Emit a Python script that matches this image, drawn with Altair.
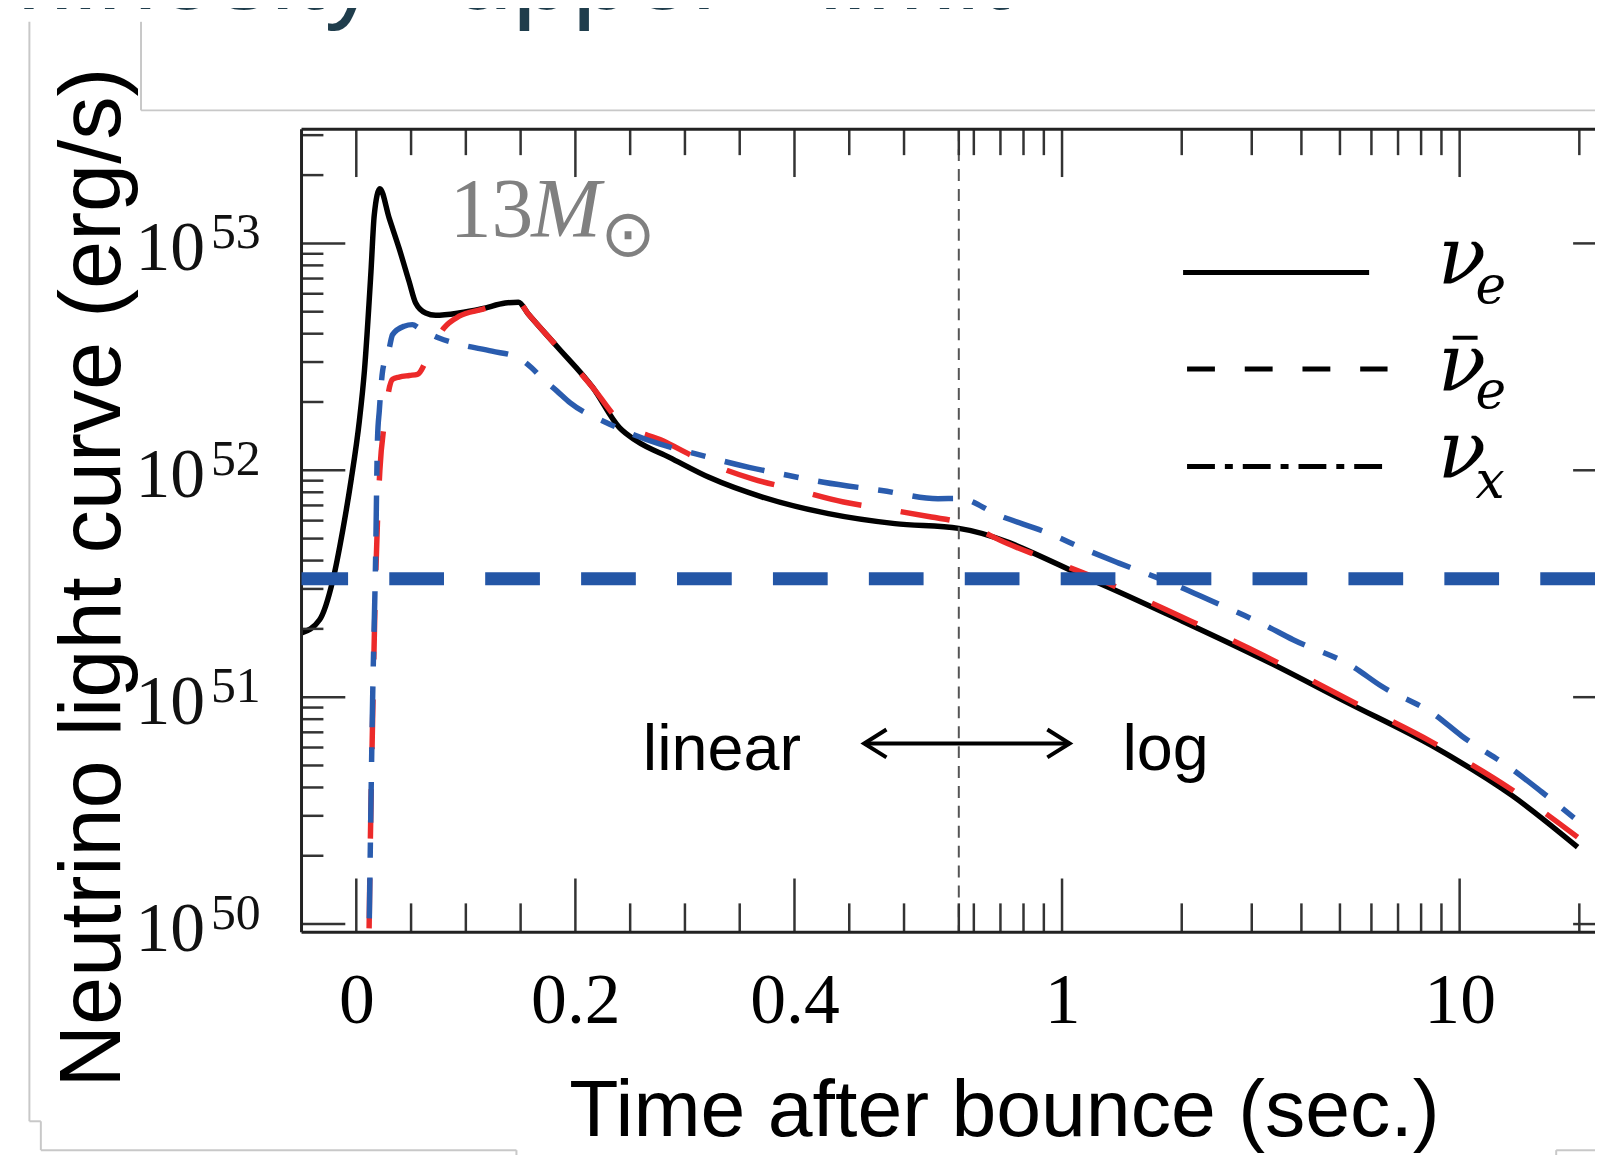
import altair as alt
import numpy as np
import pandas as pd

# ---------------- data (t in s, log10 L in erg/s) ----------------
nue_t = [-0.05, -0.0335, -0.0214, -0.0124, -0.0048, 0.0028, 0.0074, 0.0134, 0.0164, 0.0215,
         0.0301, 0.0391, 0.0482, 0.0542, 0.0633, 0.0724, 0.0936, 0.1148, 0.136, 0.148, 0.157,
         0.183, 0.216, 0.240, 0.2556, 0.2858, 0.322, 0.3707, 0.431, 0.4917, 0.55,
         1.216, 1.976, 3.22, 5.24, 8.54, 13.56, 19.8]
nue_logL = [51.283, 51.341, 51.516, 51.735, 51.955, 52.218, 52.437, 52.876, 53.125, 53.241,
            53.110, 52.978, 52.832, 52.737, 52.693, 52.683, 52.693, 52.712, 52.737, 52.741, 52.689,
            52.547, 52.364, 52.189, 52.130, 52.057, 51.969, 51.882, 51.809, 51.765, 51.744,
            51.509, 51.341, 51.165, 50.975, 50.785, 50.566, 50.339]

nuebar_t = [0.0117, 0.0124, 0.0149, 0.0179, 0.0215, 0.0255, 0.0285, 0.0331, 0.0391, 0.0485,
            0.0558, 0.0676, 0.080, 0.0939, 0.1148, 0.136, 0.148, 0.157, 0.183, 0.216, 0.240,
            0.2798, 0.316, 0.3616, 0.398, 0.4448, 0.481, 0.525, 0.55,
            0.729, 1.216, 1.976, 3.22, 5.24, 8.54, 13.56, 19.8]
nuebar_logL = [49.981, 50.230, 50.902, 51.560, 51.999, 52.204, 52.320, 52.401, 52.411, 52.418,
               52.423, 52.525, 52.627, 52.679, 52.709, 52.737, 52.741, 52.689, 52.547, 52.364, 52.218,
               52.130, 52.043, 51.962, 51.918, 51.860, 51.831, 51.794, 51.772,
               51.677, 51.525, 51.358, 51.183, 50.990, 50.801, 50.591, 50.383]

nux_t = [0.0119, 0.0149, 0.0176, 0.0194, 0.0210, 0.0240, 0.0301, 0.0331, 0.0437, 0.0512,
         0.0573, 0.0755, 0.0936, 0.1239, 0.148, 0.160, 0.169, 0.183, 0.195, 0.228, 0.2767,
         0.310, 0.3585, 0.3948, 0.4266, 0.4797, 0.531, 0.55,
         0.694, 0.929, 1.156, 1.390, 1.931, 2.349, 3.225, 3.812, 5.373, 6.365, 8.638, 10.12,
         13.54, 16.09, 19.78]
nux_logL = [50.025, 50.990, 51.604, 52.143, 52.262, 52.437, 52.539, 52.598, 52.635, 52.642,
            52.627, 52.583, 52.556, 52.525, 52.496, 52.452, 52.408, 52.350, 52.298, 52.211, 52.116,
            52.072, 52.013, 51.977, 51.947, 51.911, 51.875, 51.876,
            51.801, 51.721, 51.648, 51.591, 51.494, 51.428, 51.319, 51.253, 51.136, 51.048, 50.924, 50.829,
            50.683, 50.582, 50.456]

threshold_logL = [51.522]          # horizontal upper-limit line
split_t = [0.55]                   # linear -> log boundary
arrow_t = [0.4636, 1.045]          # double arrow ends
arrow_logL = [50.796]

x_major_t = [0, 0.2, 0.4, 1, 10]
x_major_labels = ["0", "0.2", "0.4", "1", "10"]
x_minor_t = [0.05, 0.1, 0.15, 0.25, 0.3, 0.35, 0.45, 0.5, 0.55,
             0.6, 0.7, 0.8, 0.9, 2, 3, 4, 5, 6, 7, 8, 9, 20]
y_major_exp = [50, 51, 52, 53]
y_minor = [k * 10.0 ** e for e in (50, 51, 52) for k in range(2, 10)] + [2e53, 3e53]

# ---------------- hybrid axis: linear up to 0.55 s, log beyond ----------------
T_SPLIT = 0.55
K_LOG = 399.6 / 1101.0  # linear units per decade


def to_u(t):
    t = float(t)
    if t <= T_SPLIT:
        return t
    return T_SPLIT + (np.log10(t) - np.log10(T_SPLIT)) * K_LOG


W, H = 1300, 807
XS = alt.Scale(domain=[-0.05, -0.05 + W / 1101.0], nice=False, zero=False)
YS = alt.Scale(type="log", domain=[10 ** 49.964, 10 ** 53.503], nice=False)

tick_u = [to_u(t) for t in x_major_t]
expr = "''"
for uu, lab in reversed(list(zip(tick_u, x_major_labels))):
    expr = f"abs(datum.value - {uu:.6f}) < 0.001 ? '{lab}' : ({expr})"

XAX = alt.Axis(
    values=tick_u, labelExpr=expr, ticks=False, tickSize=0, domain=False, grid=False,
    labelFont="Liberation Serif", labelFontSize=72, labelColor="black",
    labelBaseline="alphabetic", labelPadding=91, labelFlush=False, labelOverlap=False,
    title="Time after bounce (sec.)", titleFont="Liberation Sans", titleFontSize=81,
    titleFontWeight="normal", titleColor="black", titleX=706, titleY=204,
    titleAlign="center", titleBaseline="alphabetic")
YAX = alt.Axis(
    labels=False, ticks=False, domain=False, grid=False,
    title="Neutrino light curve (erg/s)", titleFont="Liberation Sans", titleFontSize=87,
    titleFontWeight="normal", titleColor="black", titleAngle=270, titleX=-183, titleY=450,
    titleAlign="center", titleBaseline="alphabetic")


def X(f):
    return alt.X(f"{f}:Q", scale=XS, axis=XAX)


def Y(f):
    return alt.Y(f"{f}:Q", scale=YS, axis=YAX)


def series(ts, ls):
    return pd.DataFrame({"u": [to_u(t) for t in ts], "L": [10 ** v for v in ls]})


ONE = pd.DataFrame({"k": [0]})


def seg(x1, x2, y1, y2, color, w, dash=None):
    kw = dict(color=color, strokeWidth=w)
    if dash:
        kw["strokeDash"] = dash
    return alt.Chart(ONE).mark_rule(**kw).encode(
        x=alt.value(x1), x2=alt.value(x2), y=alt.value(y1), y2=alt.value(y2))


def txt(s, x, y, size, font="Liberation Sans", color="black", align="left", style="normal"):
    return alt.Chart(ONE).mark_text(text=s, font=font, fontSize=size, color=color, align=align,
                                    baseline="alphabetic", fontStyle=style).encode(
        x=alt.value(x), y=alt.value(y))


layers = []

# slide decoration (grey outline)
G = "#c8c8c8"
layers += [
    seg(-273.5, -273.5, -108, 997, G, 2),
    seg(-273.5, -262, 997, 997, G, 2),
    seg(-262, -262, 997, 1026, G, 2),
    seg(-262, 216, 1026, 1026, G, 2),
    seg(216, 216, 1026, 1040, G, 2),
    seg(1261, 1261, 1026, 1040, G, 2),
    seg(1261, 1310, 1026, 1026, G, 2),
    seg(-161.3, -161.3, -108, -19, G, 2),
    seg(-161.3, 1310, -19, -19, G, 2),
]
# partially visible slide title
TC = "#1f3d4c"
layers += [
    txt("Luminosity", 77, -121, 108, color=TC, align="right"),
    txt("upper", 152, -121, 108, color=TC),
    txt("limit", 520, -121, 108, color=TC),
]

# curves: nu_e (black), anti-nu_e (red), nu_x (blue)
layers.append(alt.Chart(series(nue_t, nue_logL)).mark_line(
    color="black", strokeWidth=5.5, clip=True, interpolate="monotone").encode(x=X("u"), y=Y("L")))
layers.append(alt.Chart(series(nuebar_t, nuebar_logL)).mark_line(
    color="#ec2a2a", strokeWidth=5.5, strokeDash=[50, 40], clip=True, interpolate="monotone").encode(x=X("u"), y=Y("L")))
layers.append(alt.Chart(series(nux_t, nux_logL)).mark_line(
    color="#2a5cae", strokeWidth=5.5, strokeDash=[41, 20, 15, 20], clip=True, interpolate="monotone").encode(x=X("u"), y=Y("L")))

# boundary line
layers.append(alt.Chart(pd.DataFrame({"u": [to_u(t) for t in split_t]})).mark_rule(
    color="#555555", strokeWidth=2, strokeDash=[12, 8]).encode(x=X("u")))

# ticks (inward)
TK = "#333333"
xmaj = pd.DataFrame({"u": tick_u})
xmin = pd.DataFrame({"u": [to_u(t) for t in x_minor_t]})
layers += [
    alt.Chart(xmaj).mark_rule(color=TK, strokeWidth=2.5).encode(x=X("u"), y=alt.value(H - 54), y2=alt.value(H)),
    alt.Chart(xmin).mark_rule(color=TK, strokeWidth=2.5).encode(x=X("u"), y=alt.value(H - 29), y2=alt.value(H)),
    alt.Chart(xmaj).mark_rule(color=TK, strokeWidth=2.5).encode(x=X("u"), y=alt.value(0), y2=alt.value(48)),
    alt.Chart(xmin).mark_rule(color=TK, strokeWidth=2.5).encode(x=X("u"), y=alt.value(0), y2=alt.value(26)),
]
ymaj = pd.DataFrame({"L": [10.0 ** e for e in y_major_exp],
                     "base": ["10"] * len(y_major_exp),
                     "exp": [str(e) for e in y_major_exp]})
ymin = pd.DataFrame({"L": y_minor})
layers += [
    alt.Chart(ymaj).mark_rule(color=TK, strokeWidth=2.5).encode(y=Y("L"), x=alt.value(0), x2=alt.value(44)),
    alt.Chart(ymin).mark_rule(color=TK, strokeWidth=2.5).encode(y=Y("L"), x=alt.value(0), x2=alt.value(22)),
    alt.Chart(ymaj).mark_rule(color=TK, strokeWidth=2.5).encode(y=Y("L"), x=alt.value(W - 22), x2=alt.value(W)),
    alt.Chart(ymaj).mark_text(font="Liberation Serif", fontSize=70, align="right", baseline="alphabetic",
                              dy=27, color="#111111").encode(y=Y("L"), x=alt.value(-97), text="base:N"),
    alt.Chart(ymaj).mark_text(font="Liberation Serif", fontSize=50, align="left", baseline="alphabetic",
                              dy=5, color="#111111").encode(y=Y("L"), x=alt.value(-91), text="exp:N"),
]

# frame
layers += [
    seg(0, 0, 0, H, "#222222", 3),
    seg(0, W, 0, 0, "#222222", 3),
    seg(0, W, H, H, "#222222", 3),
]

# threshold (drawn on top)
layers.append(alt.Chart(pd.DataFrame({"L": [10 ** v for v in threshold_logL]})).mark_rule(
    color="#2456a6", strokeWidth=13, strokeDash=[55, 41.4]).encode(y=Y("L")))

# linear <-> log annotation
arr = pd.DataFrame({"u1": [to_u(arrow_t[0])], "u2": [to_u(arrow_t[1])], "L": [10 ** arrow_logL[0]]})
layers += [
    alt.Chart(arr).mark_rule(color="black", strokeWidth=4).encode(x=X("u1"), x2="u2", y=Y("L")),
    alt.Chart(arr).mark_point(shape="M-1.6,-1L0,0L-1.6,1", filled=False, color="black",
                              strokeWidth=4, size=784, opacity=1).encode(x=X("u2"), y=Y("L")),
    alt.Chart(arr).mark_point(shape="M1.6,-1L0,0L1.6,1", filled=False, color="black",
                              strokeWidth=4, size=784, opacity=1).encode(x=X("u1"), y=Y("L")),
    txt("linear", 343, 644, 65),
    txt("log", 825, 644, 65),
]

# 13 M_sun
GR = "#808080"
layers += [
    txt("13", 149, 108, 84, font="Liberation Serif", color=GR),
    txt("M", 231, 108, 84, font="Liberation Serif", color=GR, style="italic"),
    txt("\u2299", 328, 127, 66, font="DejaVu Sans", color=GR, align="center"),
]

# legend (black samples)
layers += [
    seg(886, 1073, 144, 144, "black", 5),
    seg(890, 1091.5, 241, 241, "black", 5, [28, 30]),
    seg(890, 1091.5, 339, 339, "black", 5, [28, 10, 8, 10]),
    txt("\u03bd", 1142, 155, 80, font="DejaVu Serif", style="italic"),
    txt("e", 1180, 175, 52, font="DejaVu Serif", style="italic"),
    txt("\u03bd", 1142, 263, 80, font="DejaVu Serif", style="italic"),
    seg(1157, 1182, 209.5, 209.5, "black", 4),
    txt("e", 1180, 280, 52, font="DejaVu Serif", style="italic"),
    txt("\u03bd", 1142, 350, 80, font="DejaVu Serif", style="italic"),
    txt("x", 1180, 371, 52, font="DejaVu Serif", style="italic"),
]

chart = alt.layer(*layers).properties(
    width=W, height=H,
    autosize=alt.AutoSizeParams(type="none"),
    padding={"left": 295, "top": 119, "right": 0, "bottom": 221},
).configure_view(stroke=None)

chart.save("out.html", embed_options={"renderer": "svg", "actions": False})
